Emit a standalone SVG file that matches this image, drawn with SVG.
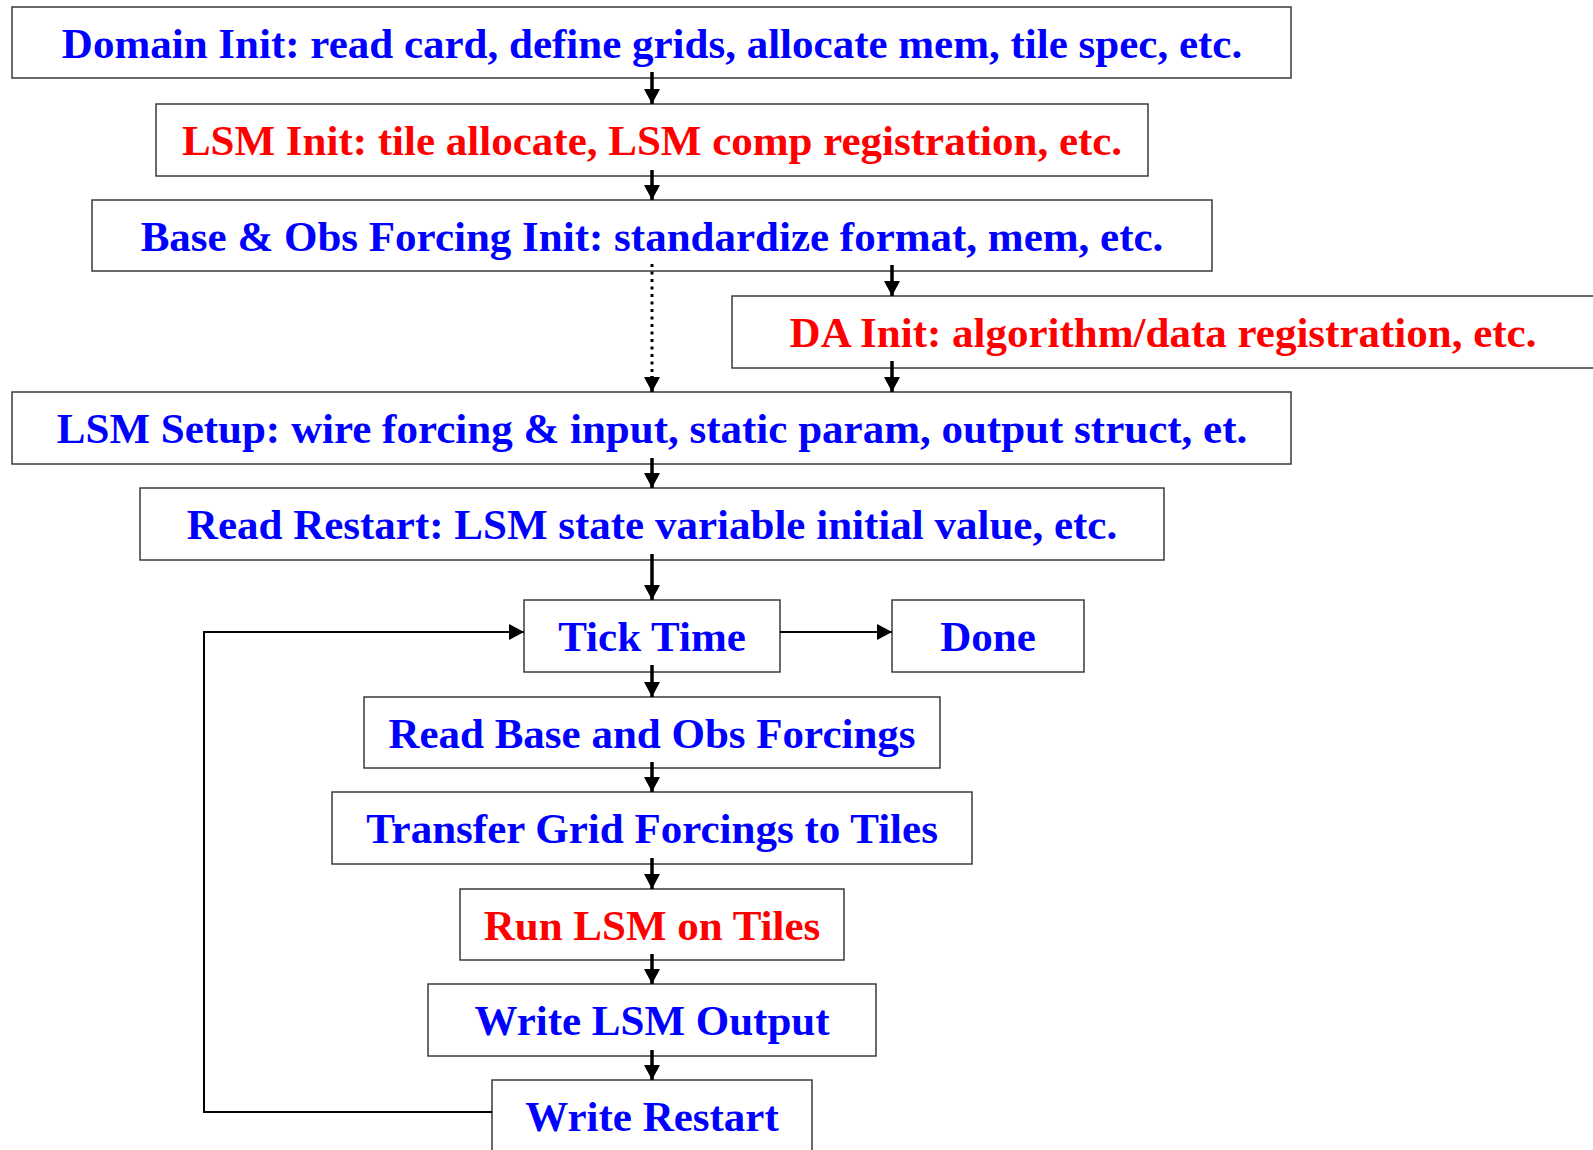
<svg xmlns="http://www.w3.org/2000/svg" width="1593" height="1150" viewBox="0 0 1593 1150">
<style>
.box{fill:#fff;stroke:#3a3a3a;stroke-width:1.5}
.t{font-family:"Liberation Serif","Times New Roman",serif;font-weight:bold;font-size:43px;text-anchor:middle}
.b{fill:#0000ff}
.r{fill:#ff0000}
.v{stroke:#000;stroke-width:3.5;fill:none}
.h{stroke:#000;stroke-width:2;fill:none}
</style>
<defs>
<marker id="ah" markerUnits="userSpaceOnUse" markerWidth="18" markerHeight="18" viewBox="0 0 18 18" refX="15" refY="8" orient="auto">
<path d="M0,0 L15,8 L0,16 Z" fill="#000"/>
</marker>
</defs>
<rect width="1593" height="1150" fill="#fff"/>
<g id="domain-init"><rect class="box" x="12" y="7" width="1279" height="71"/><text class="t b" x="652" y="58">Domain Init: read card, define grids, allocate mem, tile spec, etc.</text></g>
<g id="lsm-init"><rect class="box" x="156" y="104" width="992" height="72"/><text class="t r" x="652" y="155">LSM Init: tile allocate, LSM comp registration, etc.</text></g>
<g id="forcing-init"><rect class="box" x="92" y="200" width="1120" height="71"/><text class="t b" x="652" y="251">Base &amp; Obs Forcing Init: standardize format, mem, etc.</text></g>
<g id="da-init"><rect class="box" x="732" y="296" width="866" height="72"/><text class="t r" x="1163" y="347">DA Init: algorithm/data registration, etc.</text></g>
<g id="lsm-setup"><rect class="box" x="12" y="392" width="1279" height="72"/><text class="t b" x="652" y="443">LSM Setup: wire forcing &amp; input, static param, output struct, et.</text></g>
<g id="read-restart"><rect class="box" x="140" y="488" width="1024" height="72"/><text class="t b" x="652" y="539">Read Restart: LSM state variable initial value, etc.</text></g>
<g id="tick-time"><rect class="box" x="524" y="600" width="256" height="72"/><text class="t b" x="652" y="651">Tick Time</text></g>
<g id="done"><rect class="box" x="892" y="600" width="192" height="72"/><text class="t b" x="988" y="651">Done</text></g>
<g id="read-forcings"><rect class="box" x="364" y="697" width="576" height="71"/><text class="t b" x="652" y="748">Read Base and Obs Forcings</text></g>
<g id="transfer"><rect class="box" x="332" y="792" width="640" height="72"/><text class="t b" x="652" y="843">Transfer Grid Forcings to Tiles</text></g>
<g id="run-lsm"><rect class="box" x="460" y="889" width="384" height="71"/><text class="t r" x="652" y="940">Run LSM on Tiles</text></g>
<g id="write-output"><rect class="box" x="428" y="984" width="448" height="72"/><text class="t b" x="652" y="1035">Write LSM Output</text></g>
<g id="write-restart"><rect class="box" x="492" y="1080" width="320" height="72"/><text class="t b" x="652" y="1131">Write Restart</text></g>
<g id="connectors">
<line class="v" x1="652" y1="72" x2="652" y2="104" marker-end="url(#ah)"/>
<line class="v" x1="652" y1="170" x2="652" y2="200" marker-end="url(#ah)"/>
<line class="v" x1="892" y1="265" x2="892" y2="296" marker-end="url(#ah)"/>
<line class="v" x1="892" y1="361" x2="892" y2="392" marker-end="url(#ah)"/>
<line x1="652" y1="264" x2="652" y2="380" stroke="#000" stroke-width="3" stroke-dasharray="3 4.5"/>
<line class="v" x1="652" y1="376" x2="652" y2="392" marker-end="url(#ah)"/>
<line class="v" x1="652" y1="458" x2="652" y2="488" marker-end="url(#ah)"/>
<line class="v" x1="652" y1="554" x2="652" y2="600" marker-end="url(#ah)"/>
<line class="h" x1="780" y1="632" x2="892" y2="632" marker-end="url(#ah)"/>
<line class="v" x1="652" y1="665" x2="652" y2="697" marker-end="url(#ah)"/>
<line class="v" x1="652" y1="762" x2="652" y2="792" marker-end="url(#ah)"/>
<line class="v" x1="652" y1="858" x2="652" y2="889" marker-end="url(#ah)"/>
<line class="v" x1="652" y1="954" x2="652" y2="984" marker-end="url(#ah)"/>
<line class="v" x1="652" y1="1050" x2="652" y2="1080" marker-end="url(#ah)"/>
<polyline class="h" points="492,1112 204,1112 204,632 524,632" marker-end="url(#ah)"/>
</g>
</svg>
